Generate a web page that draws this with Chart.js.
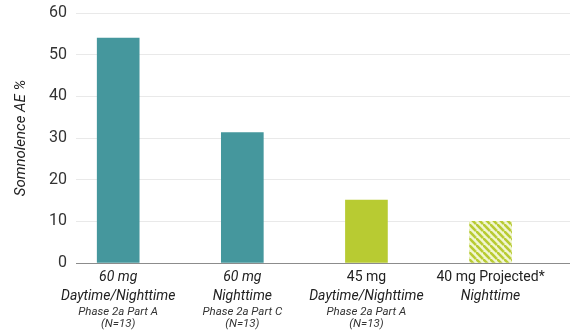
<!DOCTYPE html>
<html lang="en">
<head>
  <meta charset="UTF-8">
  <title>Somnolence AE %</title>
  <script src="https://cdn.jsdelivr.net/npm/chart.js"></script>
  <style>
    html, body { margin: 0; padding: 0; background: #fff; }
    #wrap { width: 570px; height: 336px; }
  </style>
</head>
<body>
  <div id="wrap"><canvas id="aeChart" width="570" height="336"></canvas></div>

  <script>
    // données
    const doses = ['60 mg', '60 mg', '45 mg', '40 mg Projected*'];
    const schedules = ['Daytime/Nighttime', 'Nighttime', 'Daytime/Nighttime', 'Nighttime'];
    const studies = ['Phase 2a Part A', 'Phase 2a Part C', 'Phase 2a Part A', ''];
    const cohorts = ['(N=13)', '(N=13)', '(N=13)', ''];
    const somnolence = [54, 31.3, 15.1, 10];
    const yTicks = [0, 10, 20, 30, 40, 50, 60];

    const teal = '#45979d';
    const lime = '#b8cb32';

    // hachures pour la barre projetée
    function hatch() {
      const s = 7;
      const c = document.createElement('canvas');
      c.width = s; c.height = s;
      const g = c.getContext('2d');
      g.fillStyle = '#f1f6d2';
      g.fillRect(0, 0, s, s);
      g.strokeStyle = lime;
      g.lineWidth = 2.6;
      [[-s, 0], [0, 0], [0, -s]].forEach(([dx, dy]) => {
        g.beginPath();
        g.moveTo(dx, dy);
        g.lineTo(dx + s, dy + s);
        g.stroke();
      });
      return g.createPattern(c, 'repeat');
    }

    const barColors = [teal, teal, lime, hatch()];

    // étiquettes de l'axe x, polices mélangées
    const xLabels = {
      id: 'xLabels',
      afterDraw(chart) {
        const ctx = chart.ctx;
        const xs = chart.scales.x;
        const y0 = chart.chartArea.bottom;
        ctx.save();
        ctx.textAlign = 'center';
        ctx.textBaseline = 'middle';
        doses.forEach((d, i) => {
          const x = xs.getPixelForValue(i);
          const italicTop = i < 2 ? 'italic ' : '';
          ctx.fillStyle = '#222';
          ctx.font = italicTop + '14px Roboto';
          ctx.fillText(d, x, y0 + 14);
          ctx.font = 'italic 14px Roboto';
          ctx.fillText(schedules[i], x, y0 + 33);
          ctx.fillStyle = '#333';
          ctx.font = 'italic 11.5px Roboto';
          if (studies[i]) ctx.fillText(studies[i], x, y0 + 49);
          if (cohorts[i]) ctx.fillText(cohorts[i], x, y0 + 61);
        });
        ctx.restore();
      }
    };

    const ctx = document.getElementById('aeChart').getContext('2d');
    new Chart(ctx, {
      type: 'bar',
      data: {
        datasets: [{
          data: somnolence.map((v, i) => ({ x: i, y: v })),
          backgroundColor: barColors,
          borderWidth: 0,
          barThickness: 42
        }]
      },
      options: {
        responsive: false,
        animation: false,
        layout: { padding: { top: 13, right: 0, bottom: 0, left: 0 } },
        plugins: {
          legend: { display: false },
          tooltip: { enabled: false }
        },
        scales: {
          x: {
            type: 'linear',
            offset: false,
            min: -0.34,
            max: 3.64,
            afterFit: (s) => { s.height = 73; },
            ticks: { display: false },
            grid: { display: false },
            border: { display: true, color: '#8c8c8c', width: 1 }
          },
          y: {
            min: 0,
            max: 60,
            afterBuildTicks: (s) => { s.ticks = yTicks.map(v => ({ value: v })); },
            afterFit: (s) => { s.width = 76; s.paddingTop = 0; s.paddingBottom = 0; },
            ticks: {
              color: '#333',
              font: { family: 'Roboto', size: 16 },
              padding: 9
            },
            grid: { color: '#e9e9e9', drawTicks: false },
            border: { display: false },
            title: {
              display: true,
              text: 'Somnolence AE %',
              color: '#222',
              font: { family: 'Roboto', size: 15, style: 'italic' },
              padding: { top: 12, bottom: 4 }
            }
          }
        }
      },
      plugins: [xLabels]
    });
  </script>
</body>
</html>
